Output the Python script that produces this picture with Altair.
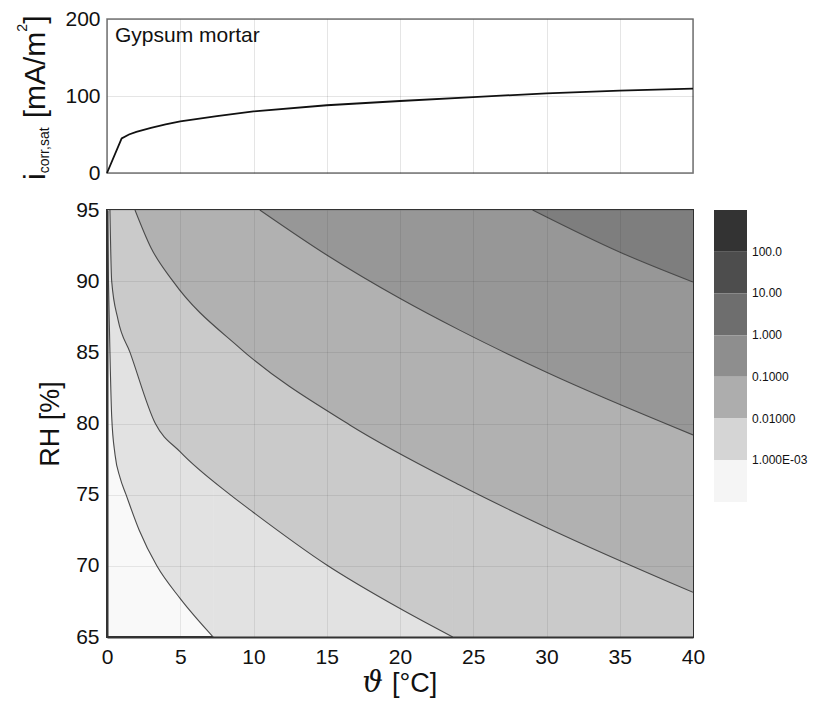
import altair as alt
import pandas as pd

FONT = "Liberation Sans"

# ---------------- data ----------------
# top panel: saturation corrosion current density vs temperature
theta_top = [0, 1, 1.5, 2, 3, 4, 5, 7.5, 10, 15, 20, 25, 30, 35, 40]
icorr_top = [0, 45, 50, 53.5, 58.5, 63, 67, 74, 80, 88, 93.5, 98.5, 103.5, 107, 109.5]

# contour lines (theta [°C], RH [%]) for levels 1e-3, 0.01, 0.1, 1, 10
c1_theta = [0.02, 0.1, 0.2, 0.32, 0.55, 0.89, 1.3, 2.2, 3.4, 5.0, 7.25]
c1_rh = [95, 90, 85, 80.5, 77.8, 76.2, 75, 72.5, 70, 67.7, 65]
c2_theta = [0.2, 0.32, 0.75, 1.57, 3.3, 5.0, 8.4, 10.0, 15.0, 20.0, 23.6]
c2_rh = [95, 90, 87.3, 85, 80, 78.0, 75, 73.75, 70.06, 67.0, 65]
c3_theta = [1.91, 3.0, 4.5, 9.07, 16.57, 24.07, 30.0, 40.0]
c3_rh = [95, 92.35, 90, 85.3, 79.9, 75.68, 72.7, 68.14]
c4_theta = [10.43, 15.0, 19.98, 24.07, 30.0, 40.0]
c4_rh = [95, 91.84, 88.8, 86.56, 83.6, 79.2]
c5_theta = [29.05, 34.98, 40.0]
c5_rh = [95, 92.05, 89.94]

contours = [(c1_theta, c1_rh), (c2_theta, c2_rh), (c3_theta, c3_rh),
            (c4_theta, c4_rh), (c5_theta, c5_rh)]

# fill colours of the plot regions, from lowest to highest level
region_colors = ["#f9f9f9", "#e2e2e2", "#cacaca", "#b1b1b1", "#979797", "#7e7e7e"]

# colour bar (top to bottom) and its labels
legend_colors = ["#333333", "#4d4d4d", "#6e6e6e", "#8e8e8e", "#adadad", "#d5d5d5", "#f5f5f5"]
legend_labels = ["100.0", "10.00", "1.000", "0.1000", "0.01000", "1.000E-03"]

x_ticks = [0, 5, 10, 15, 20, 25, 30, 35, 40]
rh_ticks = [65, 70, 75, 80, 85, 90, 95]
i_ticks = [0, 100, 200]
X_MIN, X_MAX = 0, 40
RH_MIN, RH_MAX = 65, 95

# ---------------- layout ----------------
W = 586
H_TOP = 154
H_BOT = 427
one = pd.DataFrame({"k": [0]})

x_scale = alt.Scale(domain=[X_MIN, X_MAX], nice=False, zero=False)

# approximate Arial advance widths (em) used to chain the title pieces
ADV = {"i": .222, "c": .5, "o": .556, "r": .333, ",": .278, "s": .5, "a": .556, "t": .278,
       " ": .278, "[": .278, "m": .833, "A": .667, "/": .278, "2": .556, "]": .278}


def adv(s, size):
    return sum(ADV[ch] for ch in s) * size


# ---------------- top panel ----------------
top_df = pd.DataFrame({"theta": theta_top, "i": icorr_top})
xt = alt.X("theta:Q", scale=x_scale,
           axis=alt.Axis(values=x_ticks, labels=False, ticks=False, domain=False,
                         grid=True, gridColor="#000", gridOpacity=0.1, title=None))
yt = alt.Y("i:Q", scale=alt.Scale(domain=[0, 200], nice=False),
           axis=alt.Axis(values=i_ticks, ticks=False, domain=False, labelFontSize=21,
                         labelFont=FONT, labelColor="#111", labelPadding=7, title=None,
                         grid=True, gridColor="#000", gridOpacity=0.1))
top_line = alt.Chart(top_df).mark_line(color="#111", strokeWidth=1.8).encode(x=xt, y=yt)


def vtext(s, size, x, y):
    return alt.Chart(one).mark_text(
        text=s, fontSize=size, font=FONT, angle=270, align="left",
        baseline="alphabetic", color="#111"
    ).encode(x=alt.value(x), y=alt.value(y))


M, S = 30, 14
X_MAIN, X_SUB, X_SUP = -62.5, -58, -80
y0 = 161
pieces = []
pieces.append(vtext("i", M, X_MAIN, y0)); y0 -= adv("i", M)
pieces.append(vtext("corr,sat", S, X_SUB, y0)); y0 -= adv("corr,sat", S)
y0 -= adv(" ", M)
pieces.append(vtext("[mA/m", M, X_MAIN, y0)); y0 -= adv("[mA/m", M)
pieces.append(vtext("2", S, X_SUP, y0)); y0 -= adv("2", S)
pieces.append(vtext("]", M, X_MAIN, y0))

gyp = alt.Chart(one).mark_text(
    text="Gypsum mortar", fontSize=21, font=FONT, align="left", baseline="middle", color="#111"
).encode(x=alt.value(8), y=alt.value(17))

top = alt.layer(top_line, gyp, *pieces).properties(
    width=W, height=H_TOP,
    view=alt.ViewBackground(stroke="#777", strokeWidth=1.5, fill="white"))

# ---------------- bottom panel (filled contours) ----------------
xb = alt.X("theta:Q", scale=x_scale,
           axis=alt.Axis(values=x_ticks, title=None, labelFontSize=21,
                         labelFont=FONT, labelColor="#111", labelPadding=9,
                         ticks=False, labelFlush=False, grid=True, gridColor="#000",
                         gridOpacity=0.08, zindex=1, domainColor="#333", domainWidth=2))
yb = alt.Y("rh:Q", scale=alt.Scale(domain=[RH_MIN, RH_MAX], nice=False, zero=False),
           axis=alt.Axis(values=rh_ticks, title="RH [%]", labelFontSize=21, titleFontSize=27,
                         labelFont=FONT, titleFont=FONT, labelColor="#111", titleColor="#111",
                         titleFontWeight="normal", labelPadding=8, titlePadding=11,
                         ticks=False, grid=True, gridColor="#000", gridOpacity=0.08,
                         zindex=1, domainColor="#333", domainWidth=2))

layers = []
for k, (th, rh) in enumerate(contours):
    df = pd.DataFrame({"theta": th, "rh": rh})
    col = region_colors[k + 1]
    layers.append(
        alt.Chart(df).mark_area(color=col, interpolate="monotone", clip=True)
        .encode(x=xb, y=yb, y2=alt.datum(RH_MAX))
    )
    if th[-1] < X_MAX:
        layers.append(
            alt.Chart(one).mark_rect(color=col, stroke=col, strokeWidth=0.6, clip=True)
            .encode(x=alt.datum(th[-1]), x2=alt.datum(X_MAX),
                    y=alt.datum(RH_MIN), y2=alt.datum(RH_MAX))
        )
for th, rh in contours:
    df = pd.DataFrame({"theta": th, "rh": rh})
    layers.append(
        alt.Chart(df).mark_line(color="#4a4a4a", strokeWidth=1.1, interpolate="monotone", clip=True)
        .encode(x=xb, y=yb)
    )

# x-axis title: italic serif theta + "[°C]"
TITLE_Y = H_BOT + 55
x_t1 = alt.Chart(one).mark_text(
    text="ϑ", fontSize=29, font="DejaVu Serif", fontStyle="italic", align="right",
    baseline="alphabetic", color="#111"
).encode(x=alt.value(W / 2 - 17), y=alt.value(TITLE_Y))
x_t2 = alt.Chart(one).mark_text(
    text="[°C]", fontSize=27, font=FONT, align="left", baseline="alphabetic", color="#111"
).encode(x=alt.value(W / 2 - 8), y=alt.value(TITLE_Y))
layers += [x_t1, x_t2]

bottom = alt.layer(*layers).properties(
    width=W, height=H_BOT,
    view=alt.ViewBackground(stroke="#333", strokeWidth=2, fill=region_colors[0]))

# ---------------- colour bar ----------------
leg_df = pd.DataFrame({"lo": list(range(len(legend_colors))),
                       "hi": [i + 1 for i in range(len(legend_colors))],
                       "c": legend_colors})
lab_df = pd.DataFrame({"pos": [i + 1 for i in range(len(legend_labels))],
                       "label": legend_labels})
leg_scale = alt.Scale(domain=[0, len(legend_colors)], reverse=True, nice=False, zero=False)
leg_rect = alt.Chart(leg_df).mark_rect().encode(
    x=alt.value(0), x2=alt.value(33),
    y=alt.Y("lo:Q", scale=leg_scale, axis=None), y2="hi:Q",
    color=alt.Color("c:N", scale=None))
leg_text = alt.Chart(lab_df).mark_text(
    align="left", baseline="middle", fontSize=12, font=FONT, color="#111"
).encode(x=alt.value(38), y=alt.Y("pos:Q", scale=leg_scale, axis=None), text="label:N")
legend = alt.layer(leg_rect, leg_text).properties(
    width=95, height=292, view=alt.ViewBackground(stroke=None))

spacer = alt.Chart(one).mark_point(opacity=0).encode(
    x=alt.value(0), y=alt.value(0)).properties(
    width=95, height=10, view=alt.ViewBackground(stroke=None))

chart = alt.concat(top, spacer, bottom, legend, columns=2,
                   spacing={"row": 14, "column": 5}).properties(
    padding={"left": 7, "top": -1, "right": 0, "bottom": 0},
    background="white")

chart.save("out.html", embed_options={"renderer": "svg", "actions": False})
